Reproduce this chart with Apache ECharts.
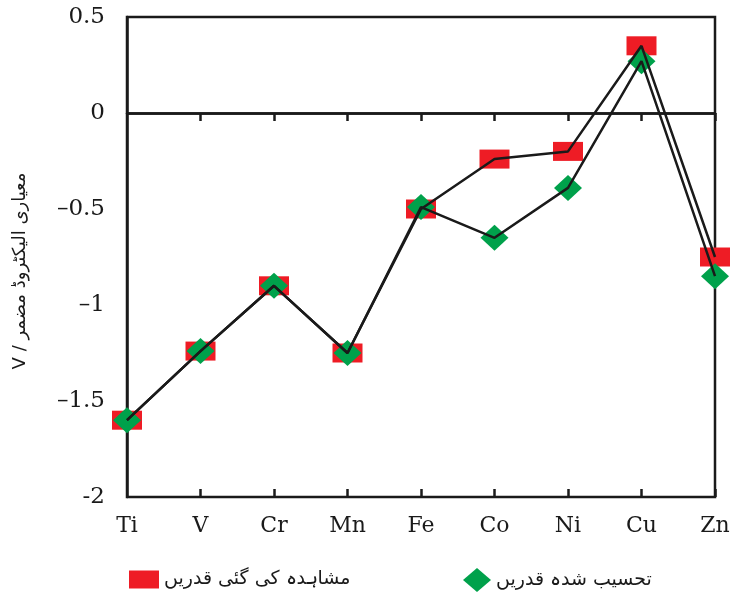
<!DOCTYPE html>
<html>
<head>
<meta charset="utf-8">
<script src="https://cdn.jsdelivr.net/npm/echarts@6/dist/echarts.min.js"></script>
<style>
html,body{margin:0;padding:0;background:#fff;}
#main{width:741px;height:595px;}
</style>
</head>
<body>
<div id="main"></div>
<script>
var categories = ['Ti', 'V', 'Cr', 'Mn', 'Fe', 'Co', 'Ni', 'Cu', 'Zn'];
var observedValues = [-1.60, -1.24, -0.90, -1.25, -0.50, -0.24, -0.20, 0.35, -0.75];
var calculatedValues = [-1.60, -1.24, -0.90, -1.25, -0.49, -0.65, -0.39, 0.27, -0.85];
var yTickValues = [0.5, 0, -0.5, -1, -1.5, -2];
var yTickLabels = ['0.5', '0', '\u20130.5', '\u20131', '\u20131.5', '-2'];
var observedName = 'مشاہدہ کی گئی قدریں';
var calculatedName = 'تحسیب شدہ قدریں';
var yAxisName = 'V / معیاری الیکٹروڈ مضمر';

var chart = echarts.init(document.getElementById('main'), null, {renderer: 'canvas'});
var serif = 'DejaVu Serif';
var urdu = 'DejaVu Sans';

var option = {
  backgroundColor: '#fff',
  animation: false,
  grid: {left: 127, right: 26, top: 17, bottom: 98, show: true, borderColor: '#1a1a1a', borderWidth: 2.5, backgroundColor: 'transparent'},
  legend: [
    {
      data: [{name: observedName, icon: 'rect'}],
      left: 124, top: 565, itemWidth: 30, itemHeight: 18, itemGap: 10,
      textStyle: {fontFamily: urdu, fontSize: 19, color: '#1a1a1a'}
    },
    {
      data: [{name: calculatedName, icon: 'diamond'}],
      left: 458, top: 563, itemWidth: 28, itemHeight: 24, itemGap: 10,
      textStyle: {fontFamily: urdu, fontSize: 19, color: '#1a1a1a'}
    }
  ],
  xAxis: [
    {
      type: 'category', data: categories, boundaryGap: false,
      axisLine: {lineStyle: {color: '#1a1a1a', width: 2.5}},
      axisTick: {show: true, length: 8, lineStyle: {color: '#1a1a1a', width: 2.5}, interval: function (i) { return i > 0; }},
      axisLabel: {color: '#1a1a1a', fontFamily: serif, fontSize: 22, margin: 18}
    },
    {
      type: 'category', data: categories, boundaryGap: false, position: 'bottom',
      axisLine: {show: false},
      axisTick: {show: true, inside: true, length: 8, lineStyle: {color: '#1a1a1a', width: 2.5}, interval: function (i) { return i > 0; }},
      axisLabel: {show: false}
    }
  ],
  yAxis: {
    type: 'value', min: -2, max: 0.5, interval: 0.5,
    name: yAxisName, nameLocation: 'middle', nameGap: 98, nameRotate: 90,
    nameTextStyle: {fontFamily: urdu, fontSize: 18, color: '#1a1a1a', padding: [0, 28, 0, 0]},
    axisLine: {show: true, lineStyle: {color: '#1a1a1a', width: 2.5}},
    axisTick: {show: false},
    splitLine: {show: false},
    axisLabel: {
      color: '#1a1a1a', fontFamily: serif, fontSize: 23, margin: 22,
      formatter: function (v) {
        for (var i = 0; i < yTickValues.length; i++) {
          if (Math.abs(yTickValues[i] - v) < 1e-9) return yTickLabels[i];
        }
        return '';
      }
    }
  },
  series: [
    {
      name: observedName, type: 'scatter', data: observedValues, z: 2,
      symbol: 'rect', symbolSize: [30, 19],
      itemStyle: {color: '#ee1c25', opacity: 1}
    },
    {
      name: calculatedName, type: 'scatter', data: calculatedValues, z: 3,
      symbol: 'diamond', symbolSize: [28, 26],
      itemStyle: {color: '#00a14b', opacity: 1}
    },
    {
      name: 'observedLine', type: 'line', data: observedValues, z: 4,
      showSymbol: false, symbol: 'none',
      lineStyle: {color: '#1a1a1a', width: 2.5},
      markLine: {
        silent: true, symbol: 'none', label: {show: false},
        lineStyle: {color: '#1a1a1a', width: 2.5, type: 'solid'},
        data: [{yAxis: 0}]
      }
    },
    {
      name: 'calculatedLine', type: 'line', data: calculatedValues, z: 4,
      showSymbol: false, symbol: 'none',
      lineStyle: {color: '#1a1a1a', width: 2.5}
    }
  ]
};
chart.setOption(option);
</script>
</body>
</html>
